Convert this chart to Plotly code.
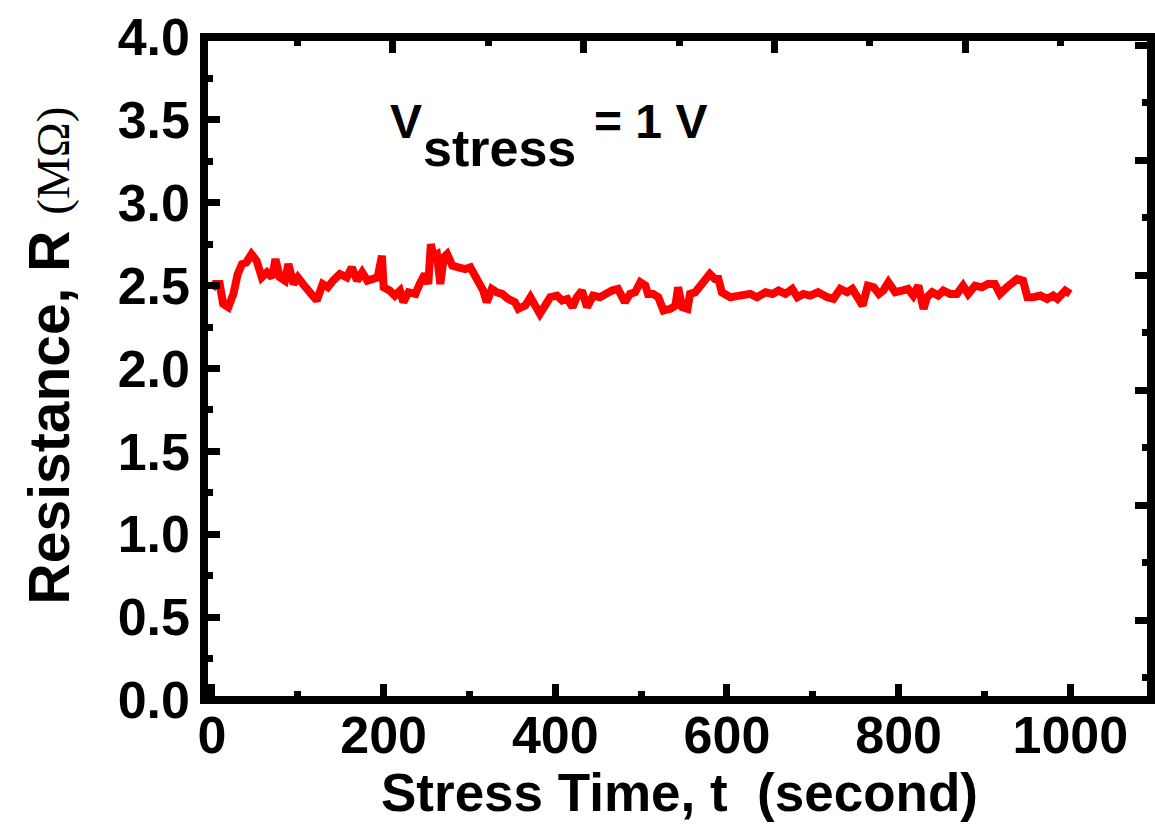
import plotly.graph_objects as go

# Stress time (s) and resistance (MOhm)
t = [0, 3.5, 9, 13, 19, 25, 30, 35, 40, 46, 52, 58, 64, 70, 74, 79, 85, 89, 95, 100,
     106, 114, 122, 129, 135, 141, 149, 157, 163, 169, 175, 181, 188, 193, 198, 200,
     207, 213, 219, 223, 229, 237, 242, 248, 252, 255, 258, 262, 266, 270, 274, 280,
     287, 295, 301, 309, 316, 320, 326, 332, 338, 345, 353, 357, 365, 371, 376, 382,
     388, 394, 402, 408, 414, 420, 425, 431, 437, 444, 452, 460, 466, 473, 481, 487,
     493, 499, 505, 508, 514, 520, 526, 534, 540, 543, 548, 554, 557, 563, 569, 575,
     580, 586, 590, 594, 604, 615, 627, 635, 645, 653, 660, 668, 676, 682, 689, 697,
     706, 717, 724, 732, 740, 746, 752, 758, 764, 771, 777, 782, 788, 796, 804, 811,
     817, 823, 829, 833, 839, 846, 852, 860, 868, 875, 881, 889, 897, 904, 912, 918,
     926, 933, 938, 945, 950, 957, 965, 973, 980, 985, 990, 994, 1000]
R = [2.48, 2.51, 2.51, 2.39, 2.37, 2.45, 2.57, 2.63, 2.64, 2.69, 2.65, 2.55, 2.58, 2.55,
     2.66, 2.55, 2.53, 2.63, 2.51, 2.55, 2.51, 2.46, 2.41, 2.51, 2.49, 2.53, 2.57, 2.55,
     2.61, 2.53, 2.58, 2.53, 2.54, 2.55, 2.68, 2.49, 2.47, 2.44, 2.47, 2.40, 2.46, 2.45,
     2.51, 2.57, 2.51, 2.75, 2.68, 2.69, 2.51, 2.67, 2.69, 2.62, 2.61, 2.60, 2.61, 2.53,
     2.47, 2.40, 2.48, 2.46, 2.45, 2.42, 2.40, 2.36, 2.38, 2.43, 2.38, 2.33, 2.38, 2.43,
     2.44, 2.41, 2.42, 2.37, 2.43, 2.47, 2.37, 2.44, 2.43, 2.46, 2.47, 2.48, 2.40, 2.45,
     2.46, 2.52, 2.50, 2.45, 2.45, 2.43, 2.35, 2.36, 2.38, 2.49, 2.37, 2.36, 2.45, 2.46,
     2.50, 2.53, 2.57, 2.54, 2.54, 2.46, 2.43, 2.44, 2.45, 2.43, 2.46, 2.45, 2.47, 2.45,
     2.48, 2.43, 2.45, 2.44, 2.46, 2.43, 2.42, 2.48, 2.46, 2.48, 2.43, 2.38, 2.50, 2.49,
     2.45, 2.47, 2.52, 2.46, 2.47, 2.48, 2.44, 2.50, 2.36, 2.43, 2.46, 2.44, 2.47, 2.45,
     2.45, 2.50, 2.45, 2.50, 2.49, 2.51, 2.51, 2.45, 2.49, 2.52, 2.54, 2.53, 2.43, 2.43,
     2.44, 2.42, 2.44, 2.42, 2.44, 2.47, 2.45]

x_ticks = [0, 200, 400, 600, 800, 1000]
y_ticks = [0.0, 0.5, 1.0, 1.5, 2.0, 2.5, 3.0, 3.5, 4.0]
y_ticklabels = ["0.0", "0.5", "1.0", "1.5", "2.0", "2.5", "3.0", "3.5", "4.0"]

BOLD = dict(family="Liberation Sans, Arial, sans-serif", size=52, color="black", weight="bold")
MAJ_LEN, MIN_LEN, TW = 16, 9, 7

fig = go.Figure()
fig.add_trace(go.Scatter(x=t, y=R, mode="lines",
                         line=dict(color="#ff0000", width=8), showlegend=False))
# invisible trace to activate mirror axes
fig.add_trace(go.Scatter(x=[None], y=[None], xaxis="x2", yaxis="y2", showlegend=False))

common = dict(showgrid=False, zeroline=False, showline=False, ticks="inside",
              ticklen=MAJ_LEN, tickwidth=TW, tickcolor="black")

fig.update_layout(
    width=1155, height=826,
    margin=dict(l=204, r=4, t=37, b=126),
    paper_bgcolor="white", plot_bgcolor="white",
    xaxis=dict(range=[-9.3, 1094], tickmode="array", tickvals=x_ticks,
               ticktext=[str(v) for v in x_ticks], tickfont=BOLD,
               minor=dict(dtick=100, tick0=0, ticks="inside", ticklen=MIN_LEN,
                          tickwidth=TW, tickcolor="black"),
               ticklabelstandoff=0, **common),
    yaxis=dict(range=[0, 4.0], tickmode="array", tickvals=y_ticks,
               ticktext=y_ticklabels, tickfont=BOLD,
               minor=dict(dtick=0.25, tick0=0, ticks="inside", ticklen=MIN_LEN,
                          tickwidth=TW, tickcolor="black"),
               ticklabelstandoff=13, **common),
    xaxis2=dict(overlaying="x", side="top", anchor="y", range=[0.009, 4.975],
                dtick=1, tick0=0, showticklabels=False,
                minor=dict(dtick=0.5, tick0=0, ticks="inside", ticklen=MIN_LEN,
                           tickwidth=TW, tickcolor="black"), **common),
    yaxis2=dict(overlaying="y", side="right", anchor="x", range=[-0.696, 5.074],
                dtick=1, tick0=0, showticklabels=False,
                minor=dict(dtick=0.5, tick0=0, ticks="inside", ticklen=MIN_LEN,
                           tickwidth=TW, tickcolor="black"), **common),
)

# frame
fig.add_shape(type="rect", xref="paper", yref="paper", x0=0, x1=1, y0=0, y1=1,
              line=dict(color="black", width=8), layer="above")

# axis titles
fig.add_annotation(xref="paper", yref="paper", x=0.5016, y=-0.140,
                   text="Stress Time, t\u00a0\u00a0(second)", showarrow=False,
                   xanchor="center", yanchor="middle",
                   font=dict(family="Liberation Sans, Arial, sans-serif", size=53,
                             color="black", weight="bold"))
fig.add_annotation(xref="paper", yref="paper", x=-0.1635, y=0.520, textangle=-90,
                   text="Resistance, R <span style='font-family:Liberation Serif;"
                        "font-weight:normal;font-size:47px'>(M\u03a9)</span>",
                   showarrow=False, xanchor="center", yanchor="middle",
                   font=dict(family="Liberation Sans, Arial, sans-serif", size=57,
                             color="black", weight="bold"))

# V_stress label
LBL = dict(family="Liberation Sans, Arial, sans-serif", size=48, color="black", weight="bold")
SUB = dict(family="Liberation Sans, Arial, sans-serif", size=52, color="black", weight="bold")
fig.add_annotation(xref="paper", yref="paper", x=(388 - 204) / 947, y=(700 - 121) / 663.5,
                   text="V", showarrow=False, xanchor="left", yanchor="middle", font=LBL)
fig.add_annotation(xref="paper", yref="paper", x=(421 - 204) / 947, y=(700 - 148) / 663.5,
                   text="stress", showarrow=False, xanchor="left", yanchor="middle", font=SUB)
fig.add_annotation(xref="paper", yref="paper", x=(592 - 204) / 947, y=(700 - 121) / 663.5,
                   text="= 1 V", showarrow=False, xanchor="left", yanchor="middle", font=LBL)

fig.write_html("out.html")
